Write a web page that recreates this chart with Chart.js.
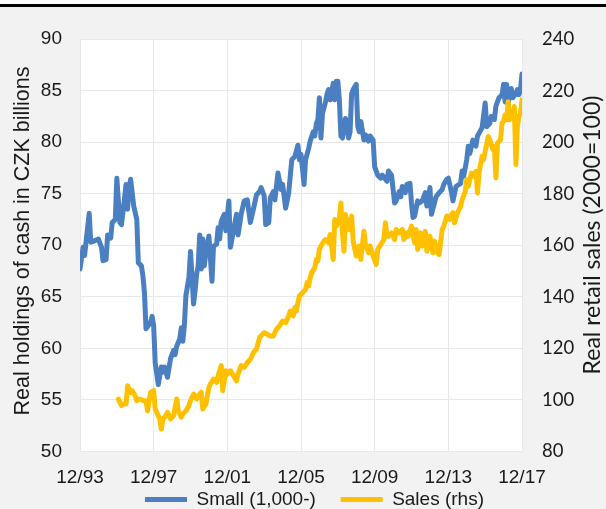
<!DOCTYPE html>
<html>
<head>
<meta charset="utf-8">
<script src="https://cdn.jsdelivr.net/npm/chart.js@4.4.1/dist/chart.umd.min.js"></script>
<style>
  html, body { margin: 0; padding: 0; background: #ffffff; }
  #wrap { width: 606px; height: 509px; position: relative; }
  canvas { display: block; }
</style>
</head>
<body>
<div id="wrap"><canvas id="chart" width="606" height="509"></canvas></div>
<script>
// Month index counted from 12/93 (0) to 12/17 (288)
const tickLabels = ['12/93', '12/97', '12/01', '12/05', '12/09', '12/13', '12/17'];

// Real holdings of cash, small denominations (1,000-), CZK billions
const smallMonths = [0,2,3,4,6,7,9,12,14,15,17,18,20,21,23,24,26,27,28,30,31,32,33,35,37,38,40,41,42,43,46,47,48,49,51,53,54,55,57,59,61,62,63,65,66,67,68,69,71,72,74,75,76,77,78,79,80,81,82,84,86,87,89,90,91,92,94,95,97,98,100,102,103,105,107,109,111,113,115,117,118,120,121,123,124,126,127,129,131,132,134,136,137,138,140,142,143,144,146,147,149,150,152,153,154,155,156,157,158,160,161,162,163,165,166,167,168,169,170,171,173,174,175,176,177,178,180,181,182,183,185,186,188,189,191,192,194,196,197,200,201,203,205,206,208,209,210,212,213,215,216,217,218,220,221,223,225,226,227,228,229,231,232,234,236,237,239,240,242,243,245,248,249,250,252,253,254,256,258,259,262,264,265,267,268,270,271,273,275,276,277,278,279,280,281,282,284,285,286,287,288];
const smallValues = [67.7,69.8,69.0,70.4,73.1,70.3,70.4,70.6,69.8,68.5,68.6,71.0,70.7,72.2,72.5,76.5,72.2,72.0,73.2,75.9,73.5,75.7,76.4,73.8,72.5,68.3,68.0,67.0,65.4,61.9,62.5,63.1,62.2,58.6,56.5,58.2,57.7,58.2,57.2,59.0,59.8,59.4,60.2,60.9,62.0,60.7,62.2,65.1,66.9,69.4,64.3,65.6,67.2,68.0,71.0,67.7,70.6,68.0,69.3,70.9,66.5,69.9,70.1,71.7,70.6,72.3,73.0,71.4,74.3,69.8,71.4,73.0,71.0,73.0,74.3,74.4,72.2,73.5,74.9,75.2,75.6,74.8,72.0,72.2,74.6,75.2,74.4,77.0,75.4,75.9,73.6,75.1,76.7,78.3,78.6,79.7,78.3,78.8,75.9,78.3,79.4,80.1,81.0,80.6,81.8,82.2,84.3,80.4,82.8,83.9,84.7,85.1,84.1,85.7,84.1,85.9,85.9,84.1,80.6,80.4,82.3,81.5,80.4,81.0,84.7,85.1,85.6,81.5,81.0,82.0,80.2,80.7,80.1,80.6,80.2,77.6,76.8,76.5,76.8,76.2,77.2,76.8,74.1,74.3,75.2,74.7,75.7,75.1,75.9,76.0,74.1,72.7,72.8,74.3,74.1,74.3,75.1,73.8,74.3,75.6,73.0,74.1,74.7,75.1,75.4,75.9,76.4,76.5,75.2,74.3,75.7,76.0,77.2,76.7,78.3,79.6,78.9,80.2,79.6,80.6,81.4,83.8,81.5,81.8,82.5,82.2,83.5,84.3,84.6,85.6,83.9,85.6,83.8,84.7,85.2,84.3,84.7,85.1,84.6,85.1,86.6];

// Real retail sales, 2000 = 100 (right-hand scale)
const salesMonths = [25,27,28,30,31,33,34,36,37,39,41,43,44,46,48,49,50,52,53,54,56,57,59,61,63,64,66,67,69,71,72,74,76,77,79,80,82,84,85,87,89,90,92,93,95,96,98,100,102,103,105,107,109,111,113,115,117,120,124,126,128,130,132,134,136,137,139,140,141,142,143,145,147,148,149,150,151,153,154,155,156,157,159,160,162,163,165,166,167,169,170,171,172,173,174,175,176,177,178,180,182,183,185,186,188,189,191,193,194,196,198,199,200,201,203,205,206,208,210,211,213,214,216,218,219,220,222,223,225,226,228,230,231,233,234,236,237,239,241,242,243,244,246,248,249,251,252,253,255,257,258,259,260,262,263,264,266,267,269,270,271,272,274,275,276,277,278,279,280,282,283,284,285,286,287,288];
const salesValues = [100.3,97.8,98.4,98.4,105.5,102.9,103.6,101.6,99.7,100.4,99.7,99.7,95.8,102.9,103.6,96.5,95.2,92.6,88.7,92.6,93.9,95.2,92.6,93.9,100.4,95.8,93.3,94.5,95.8,97.8,99.7,102.3,100.4,101.6,102.9,96.5,98.4,104.9,106.2,108.1,106.8,109.4,113.3,103.6,111.3,110.0,111.3,109.4,107.4,110.0,113.3,112.6,114.5,115.8,118.4,119.7,124.2,126.1,124.8,124.8,127.4,128.7,130.6,130.0,132.6,134.5,132.6,135.8,134.5,137.8,140.3,141.6,142.9,145.5,144.2,147.4,149.4,151.3,154.5,153.9,158.4,159.7,161.6,162.2,161.0,164.2,154.5,170.0,167.4,170.6,176.4,164.8,157.7,171.9,166.1,170.0,166.0,171.3,161.6,155.8,159.7,154.5,165.4,160.3,157.1,159.7,155.8,152.6,158.4,160.3,162.2,168.7,163.5,163.5,164.8,162.2,166.1,164.8,166.1,162.2,164.8,163.5,167.4,161.0,166.1,158.4,164.8,159.7,165.4,157.7,163.5,157.1,161.6,157.1,156.4,166.1,167.4,171.3,170.0,171.9,172.6,168.7,172.6,175.1,177.7,180.9,185.4,182.9,188.0,186.7,188.7,180.3,188.0,194.5,193.2,196.4,202.2,200.9,197.1,198.3,186.1,199.6,200.9,207.4,208.0,210.6,208.7,215.7,208.7,209.9,213.8,191.3,206.1,209.9,211.3,216.4];

const seriesNames = ['Small (1,000-)', 'Sales (rhs)'];
const axisTitles = ['Real holdings of cash in CZK billions', 'Real retail sales (2000=100)'];

const BLUE = '#4a7fc1';
const GOLD = '#ffc000';
const TEXT = '#1a1a1a';
const ARIAL = "'Liberation Sans', Arial, sans-serif";
const CALIBRI = "Lato, 'Open Sans', sans-serif";
const LEGEND_GAP = '\u2003\u2009';   // breathing room between the two legend entries

const toPoints = (xs, ys) => xs.map((m, i) => ({ x: m, y: ys[i] }));

// Grey panel, white plot area and the dark rule across the top
const panelBackground = {
  id: 'panelBackground',
  beforeDraw(chart) {
    const { ctx, width, height, chartArea: a } = chart;
    ctx.save();
    ctx.fillStyle = '#ffffff';
    ctx.fillRect(0, 0, width, height);
    ctx.fillStyle = '#f2f2f2';
    ctx.fillRect(0, 7, width, height - 7);
    ctx.fillStyle = '#000000';
    ctx.fillRect(0, 4, width, 3);
    ctx.fillStyle = '#ffffff';
    ctx.fillRect(a.left, a.top, a.right - a.left, a.bottom - a.top);
    ctx.restore();
  }
};

// Both axis titles read bottom-to-top, beside their tick labels
const axisTitlesPlugin = {
  id: 'axisTitles',
  afterDraw(chart) {
    const { ctx } = chart;
    const draw = (text, x, y, font) => {
      ctx.save();
      ctx.translate(x, y);
      ctx.rotate(-Math.PI / 2);
      ctx.font = font;
      ctx.fillStyle = TEXT;
      ctx.textAlign = 'center';
      ctx.textBaseline = 'middle';
      ctx.fillText(text, 0, 0);
      ctx.restore();
    };
    draw(axisTitles[0], 23, 241, '21.5px ' + ARIAL);
    draw(axisTitles[1], 593, 235, '23px ' + CALIBRI);
  }
};

new Chart(document.getElementById('chart'), {
  type: 'line',
  data: {
    datasets: [
      {
        label: seriesNames[0],
        data: toPoints(smallMonths, smallValues),
        yAxisID: 'y',
        borderColor: BLUE,
        backgroundColor: BLUE,
        borderWidth: 5,
        borderJoinStyle: 'round',
        borderCapStyle: 'round',
        pointRadius: 0,
        tension: 0,
        order: 1
      },
      {
        label: seriesNames[1],
        data: toPoints(salesMonths, salesValues),
        yAxisID: 'y1',
        borderColor: GOLD,
        backgroundColor: GOLD,
        borderWidth: 5,
        borderJoinStyle: 'round',
        borderCapStyle: 'round',
        pointRadius: 0,
        tension: 0,
        order: 0
      }
    ]
  },
  options: {
    responsive: false,
    animation: false,
    events: [],
    layout: { padding: { top: 39, left: 23, right: 0, bottom: -10 } },
    plugins: {
      tooltip: { enabled: false },
      legend: {
        position: 'bottom',
        labels: {
          boxWidth: 42,
          boxHeight: 5,
          padding: 2,
          color: TEXT,
          font: { family: ARIAL, size: 19 },
          sort: (a, b) => a.datasetIndex - b.datasetIndex,
          generateLabels(chart) {
            const items = Chart.defaults.plugins.legend.labels.generateLabels(chart);
            items.forEach(it => {
              it.lineWidth = 0;
              if (it.datasetIndex === 0) it.text = it.text + LEGEND_GAP;
            });
            return items;
          }
        }
      }
    },
    scales: {
      x: {
        type: 'linear',
        min: 0,
        max: 288,
        afterBuildTicks(scale) {
          scale.ticks = tickLabels.map((_, i) => ({ value: i * 48 }));
        },
        afterFit(scale) { scale.height = 36.5; },
        ticks: {
          autoSkip: false,
          maxRotation: 0,
          padding: 15,
          color: TEXT,
          font: { family: ARIAL, size: 19 },
          callback: (v) => tickLabels[Math.round(v / 48)]
        },
        grid: { color: '#e8e8e8', lineWidth: 1, drawTicks: false },
        border: { display: false }
      },
      y: {
        position: 'left',
        min: 50,
        max: 90,
        afterFit(scale) { scale.width = 57; },
        ticks: {
          stepSize: 5,
          padding: 18,
          color: TEXT,
          font: { family: ARIAL, size: 19 }
        },
        grid: { color: '#e8e8e8', lineWidth: 1, drawTicks: false },
        border: { display: false }
      },
      y1: {
        position: 'right',
        min: 80,
        max: 240,
        afterFit(scale) { scale.width = 84; },
        ticks: {
          stepSize: 20,
          padding: 20,
          color: TEXT,
          font: { family: CALIBRI, size: 18.5 }
        },
        grid: { drawOnChartArea: false, drawTicks: false },
        border: { display: false }
      }
    }
  },
  plugins: [panelBackground, axisTitlesPlugin]
});
</script>
</body>
</html>
